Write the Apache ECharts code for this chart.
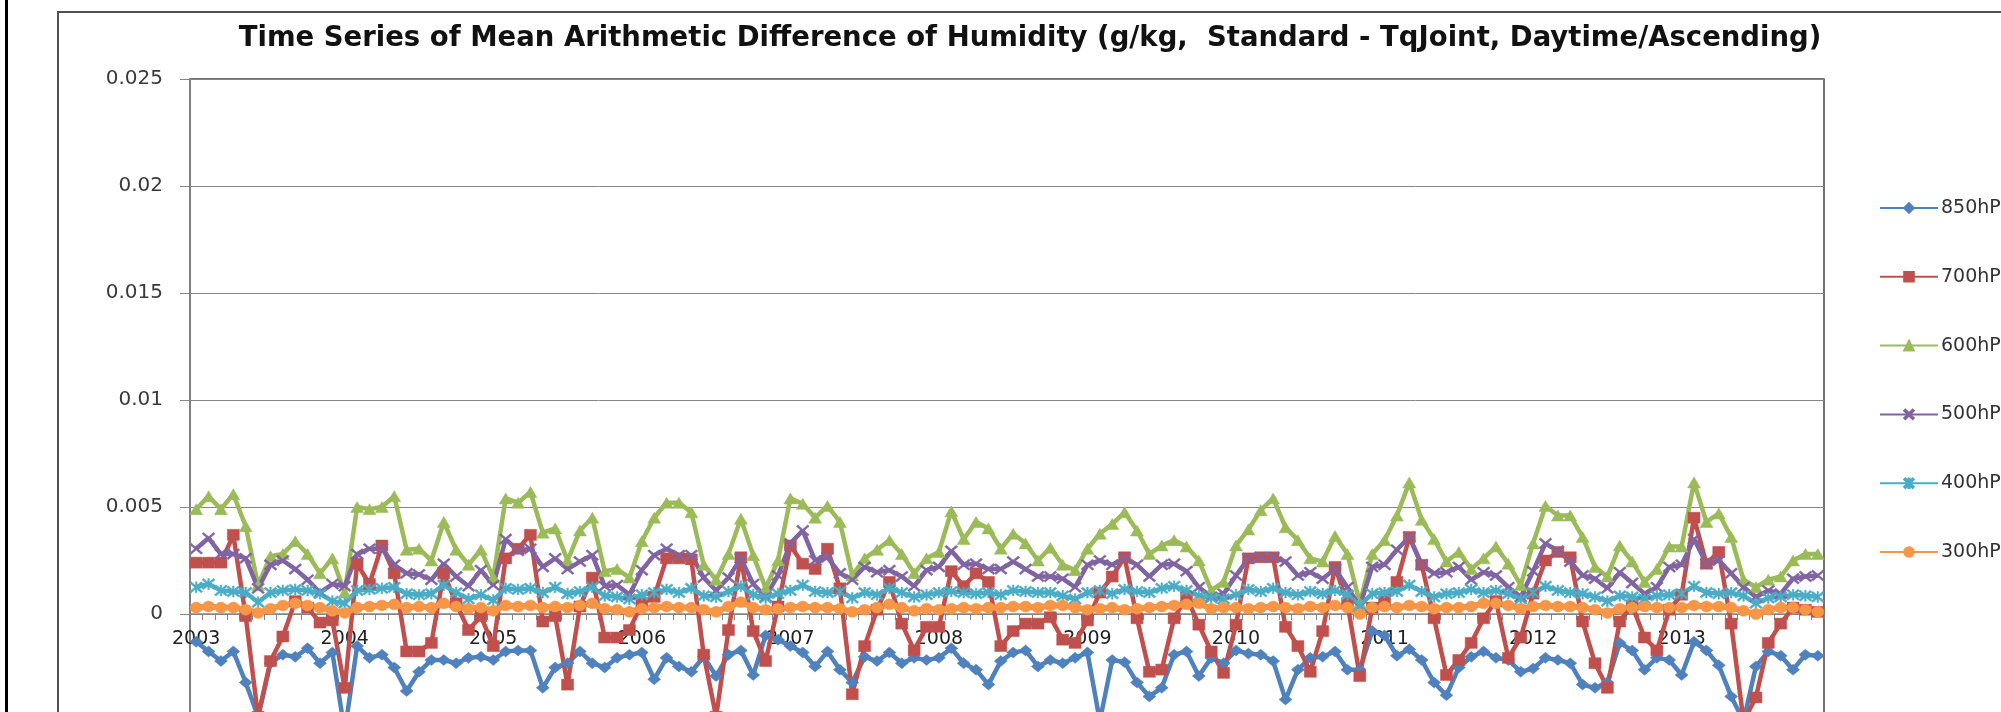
<!DOCTYPE html>
<html>
<head>
<meta charset="utf-8">
<script src="https://cdn.jsdelivr.net/npm/echarts@6/dist/echarts.min.js"></script>
<style>
html,body{margin:0;padding:0;background:#fff;}
#chart{width:2001px;height:712px;}
</style>
</head>
<body>
<div id="chart"></div>
<script>
const titleText = 'Time Series of Mean Arithmetic Difference of Humidity (g/kg,  Standard - TqJoint, Daytime/Ascending)';
const years = [2003,2004,2005,2006,2007,2008,2009,2010,2011,2012,2013];
const monthCodes = ['01','02','03','04','05','06','07','08','09','10','11','12'];
const categories = [];
years.forEach(y => monthCodes.forEach(m => categories.push(y + '-' + m)));

const seriesNames = ['850hPa','700hPa','600hPa','500hPa','400hPa','300hPa'];

const p850 = [-0.0013,-0.00175,-0.0022,-0.00175,-0.0032,-0.0048,-0.0023,-0.0019,-0.0020,-0.0016,
-0.0023,-0.0018,-0.0055,-0.0015,-0.00205,-0.0019,-0.0025,-0.0036,-0.0027,-0.00215,
-0.00215,-0.0023,-0.00205,-0.0020,-0.00215,-0.00175,-0.0017,-0.0017,-0.00345,-0.0025,
-0.0023,-0.00175,-0.0023,-0.0025,-0.00205,-0.0019,
-0.0018,-0.00305,-0.00205,-0.00245,-0.0027,-0.0020,-0.0029,-0.0019,-0.0017,-0.00285,
-0.0010,-0.0012,-0.0015,-0.0018,-0.00245,-0.00175,-0.0026,-0.0032,-0.0020,-0.0022,
-0.0018,-0.0023,-0.00205,-0.00215,-0.00205,-0.0016,-0.0023,-0.0026,-0.0033,-0.0022,
-0.0018,-0.0017,-0.00245,-0.00215,
-0.0023,-0.00205,-0.0018,-0.0050,-0.00215,-0.00225,-0.0032,-0.00385,-0.00345,-0.0019,
-0.00175,-0.0029,-0.00205,-0.0023,-0.0017,-0.00185,-0.0019,-0.0022,-0.0040,-0.0026,
-0.00205,-0.0020,-0.00175,-0.0026,-0.0026,-0.0008,-0.0010,-0.00195,-0.00165,-0.00215,
-0.0032,-0.0038,-0.0025,-0.0020,
-0.00175,-0.00205,-0.00215,-0.0027,-0.00255,-0.00205,-0.00215,-0.0023,-0.0033,-0.00345,
-0.0032,-0.00135,-0.0017,-0.0026,-0.00205,-0.00215,-0.00285,-0.0013,-0.0017,-0.0024,
-0.00385,-0.0050,-0.00245,-0.00175,-0.00195,-0.0026,-0.0019,-0.00195];

const p700 = [0.0024,0.0024,0.0024,0.0037,-0.0001,-0.0048,-0.0022,-0.00105,0.0006,0.0003,
-0.0004,-0.0003,-0.00345,0.00235,0.0014,0.0032,0.0019,-0.00175,-0.00175,-0.00135,
0.0019,0.0005,-0.00075,-0.0001,-0.0015,0.0026,0.00305,0.0037,-0.00035,-0.0001,
-0.0033,0.00035,0.0017,-0.0011,-0.0011,-0.00075,
0.0005,0.0008,0.0026,0.0026,0.00255,-0.0019,-0.0048,-0.00075,0.00265,-0.0008,
-0.0022,0.00035,0.0032,0.00235,0.0021,0.00305,0.0012,-0.00375,-0.0015,0.0002,
0.0015,-0.00045,-0.0017,-0.0006,-0.0006,0.0020,0.0013,0.0019,0.0015,-0.0015,
-0.0008,-0.00045,-0.00045,-0.00015,
-0.0012,-0.00135,-0.0003,0.0010,0.00175,0.00265,-0.0002,-0.0027,-0.0026,-0.0002,
0.0008,-0.0005,-0.00175,-0.00275,-0.0005,0.0026,0.00265,0.00265,-0.0006,-0.0015,
-0.0027,-0.0008,0.0022,0.0005,-0.0029,0.0003,0.0006,0.0015,0.0036,0.0023,
-0.0002,-0.00285,-0.00215,-0.00135,
-0.0002,0.0006,-0.00205,-0.0011,0.00095,0.0025,0.0029,0.00265,-0.00035,-0.0023,
-0.00345,-0.00035,0.0004,-0.0011,-0.0017,0.0002,0.0009,0.0045,0.00235,0.0029,
-0.00045,-0.0050,-0.0039,-0.00135,-0.00045,0.0003,0.0002,0.0001];

const p600 = [0.0049,0.0055,0.0049,0.0056,0.0041,0.00135,0.0027,0.0028,0.0034,0.0028,
0.0019,0.0026,0.0010,0.0050,0.0049,0.0050,0.0055,0.0030,0.00305,0.0025,
0.0043,0.0030,0.0023,0.0030,0.0017,0.0054,0.0052,0.0057,0.0038,0.0040,
0.0025,0.0039,0.0045,0.0020,0.0021,0.0017,
0.0034,0.0045,0.0052,0.0052,0.00475,0.0023,0.0016,0.0028,0.00445,0.00275,
0.0012,0.0025,0.0054,0.00515,0.0045,0.00505,0.0043,0.0018,0.0026,0.0030,
0.00345,0.0028,0.0019,0.0026,0.0029,0.0048,0.0035,0.0043,0.0040,0.00305,
0.00375,0.0033,0.0025,0.0031,
0.0023,0.00205,0.00305,0.00375,0.0042,0.00475,0.0039,0.0028,0.0032,0.00345,
0.00315,0.0025,0.0011,0.0015,0.0032,0.00395,0.00485,0.0054,0.00405,0.00345,
0.0026,0.00245,0.00365,0.0028,0.0005,0.0028,0.00345,0.0046,0.00615,0.0044,
0.0035,0.00245,0.0029,0.0021,
0.0026,0.00315,0.00235,0.00135,0.0033,0.00505,0.0046,0.0046,0.0036,0.0022,
0.00175,0.0032,0.00245,0.0015,0.0021,0.00315,0.00315,0.00615,0.0043,0.0047,
0.0036,0.0016,0.00125,0.0016,0.00175,0.0025,0.0028,0.0028];

const p500 = [0.00305,0.00355,0.0028,0.0028,0.0026,0.0012,0.0023,0.0025,0.0021,0.0016,
0.0010,0.0014,0.0013,0.0028,0.00305,0.00305,0.0023,0.0019,0.00185,0.0016,
0.00235,0.00175,0.0013,0.00205,0.00135,0.0035,0.00295,0.00305,0.0022,0.0026,
0.0021,0.00245,0.00275,0.0013,0.00135,0.0009,
0.00205,0.00275,0.00305,0.00275,0.00275,0.0017,0.0011,0.0017,0.0026,0.0014,
0.0008,0.0018,0.0033,0.0039,0.0025,0.00265,0.0019,0.0016,0.0022,0.00195,
0.00205,0.00175,0.0013,0.00205,0.0022,0.00295,0.0023,0.00235,0.0021,0.0021,
0.00245,0.0021,0.00175,0.00175,
0.00165,0.00125,0.0023,0.0025,0.0023,0.0026,0.0023,0.00175,0.0023,0.00235,
0.0020,0.00125,0.0008,0.00095,0.0018,0.0026,0.00265,0.00265,0.00245,0.0018,
0.00195,0.00165,0.0021,0.00125,0.00035,0.0022,0.0023,0.0030,0.0036,0.0023,
0.0019,0.00195,0.0022,0.0016,
0.00195,0.0018,0.00125,0.0008,0.0020,0.0033,0.00295,0.00245,0.0018,0.00165,
0.0012,0.00195,0.00145,0.00095,0.00125,0.0022,0.0023,0.0035,0.00235,0.0025,
0.0019,0.00125,0.0008,0.0011,0.00095,0.00165,0.00175,0.0018];

const p400 = [0.00125,0.0014,0.0011,0.00105,0.0010,0.00055,0.0010,0.0011,0.00115,0.0011,
0.00095,0.0006,0.0005,0.0011,0.00115,0.0012,0.00125,0.00095,0.0009,0.00095,
0.00135,0.0010,0.0007,0.0009,0.00065,0.0012,0.00115,0.0012,0.0010,0.00125,
0.00095,0.00105,0.00125,0.00085,0.0008,0.0007,
0.0009,0.0010,0.00115,0.0010,0.0012,0.00085,0.0008,0.00105,0.0013,0.0009,
0.00075,0.00095,0.0011,0.00135,0.00105,0.0010,0.00105,0.00075,0.0010,0.0009,
0.0012,0.0010,0.0008,0.0009,0.0010,0.00105,0.0010,0.00095,0.0010,0.0009,
0.0011,0.00105,0.0010,0.0010,
0.00085,0.0007,0.0010,0.0011,0.00095,0.00115,0.00105,0.0010,0.0012,0.0013,
0.0011,0.00085,0.00075,0.0007,0.0009,0.00115,0.00105,0.0012,0.0010,0.0009,
0.00105,0.00095,0.0011,0.0009,0.0004,0.00095,0.0010,0.00105,0.00135,0.00105,
0.0008,0.00095,0.0010,0.00115,
0.0010,0.0011,0.00095,0.0007,0.0010,0.0013,0.0011,0.0010,0.00095,0.0008,
0.0006,0.00085,0.0008,0.0007,0.00085,0.0009,0.00095,0.0013,0.0010,0.00095,
0.0010,0.00085,0.0005,0.00075,0.0008,0.0009,0.00085,0.0008];

const p300 = [0.0003,0.00035,0.0003,0.0003,0.0002,0.00005,0.00025,0.0004,0.0005,0.0004,
0.0003,0.00015,0.00005,0.0003,0.00035,0.0004,0.00045,0.0003,0.00035,0.0003,
0.0005,0.00035,0.00025,0.0003,0.00015,0.0004,0.00035,0.0004,0.0003,0.00035,
0.0003,0.0004,0.0005,0.00025,0.0002,0.0001,
0.00025,0.0003,0.00035,0.0003,0.0003,0.0002,0.0001,0.00035,0.00055,0.0003,
0.0002,0.00025,0.0003,0.00035,0.0003,0.0003,0.00025,0.0001,0.0002,0.0003,
0.00045,0.0003,0.00015,0.00025,0.0002,0.00025,0.0003,0.00025,0.0003,0.0003,
0.00035,0.00035,0.0003,0.0004,
0.0004,0.0003,0.0002,0.00025,0.0003,0.0002,0.00025,0.0003,0.00035,0.0004,
0.00045,0.0005,0.00025,0.0003,0.0003,0.00025,0.0003,0.00035,0.0003,0.00025,
0.00035,0.0003,0.0004,0.0003,0.0000,0.0003,0.00035,0.0003,0.0004,0.00035,
0.00025,0.0003,0.0003,0.00035,
0.0005,0.0005,0.0004,0.00025,0.00035,0.0004,0.00035,0.00035,0.0003,0.0002,
0.00005,0.00025,0.0003,0.00035,0.0003,0.0003,0.0003,0.0004,0.00035,0.00035,
0.0003,0.00015,0.0000,0.0002,0.0003,0.0003,0.0002,0.0001];

const yMin = -0.01, yMax = 0.025, yStep = 0.005;

const colors = ['#4F81BD','#C0504D','#9BBB59','#8064A2','#4BACC6','#F79646'];
const symX = 'path://M0,1.2L1.2,0L5,3.8L8.8,0L10,1.2L6.2,5L10,8.8L8.8,10L5,6.2L1.2,10L0,8.8L3.8,5Z';
const symStar = 'path://M0,1.2L1.2,0L5,3.8L8.8,0L10,1.2L6.2,5L10,8.8L8.8,10L5,6.2L1.2,10L0,8.8L3.8,5Z M4.4,0L5.6,0L5.6,10L4.4,10Z';
const symbols = ['diamond','rect','triangle',symX,symStar,'circle'];
const symbolSizes = [[13,11],[12,11],[13,11],[13,11],[13,11],[12,11]];
const lineWidths = [4.5,4.5,4.5,4.5,4.5,6];
const dataSets = [p850,p700,p600,p500,p400,p300];

// grid geometry: 0 lies 5/7 of the way down a grid spanning yMin..yMax
const gridTop = 79, gridHeight = 749;
const zeroOffset = -gridHeight * (0 - yMin) / (yMax - yMin);

const chart = echarts.init(document.getElementById('chart'), null, {renderer:'canvas'});
const option = {
  animation: false,
  backgroundColor: '#ffffff',
  color: colors,
  title: {
    text: titleText,
    left: 1030,
    top: 25,
    textAlign: 'center',
    padding: 0,
    textStyle: {fontFamily: 'DejaVu Sans', fontWeight: 'bold', fontSize: 27.5, color: '#111'}
  },
  graphic: [
    {type:'rect', silent:true, z:-10, shape:{x:58, y:12, width:2200, height:900}, style:{fill:'none', stroke:'#505050', lineWidth:2}},
    {type:'rect', silent:true, z:-10, shape:{x:5, y:0, width:3, height:712}, style:{fill:'#000'}}
  ],
  legend: {
    orient: 'vertical',
    left: 1879,
    top: 198,
    itemWidth: 58,
    itemHeight: 12,
    itemGap: 48.8,
    padding: 0,
    textStyle: {fontFamily: 'DejaVu Sans', fontSize: 19, color: '#333', lineHeight: 20, padding:[0,0,0,-2]},
    data: seriesNames
  },
  grid: {
    left: 190, top: gridTop, width: 1634, height: gridHeight,
    outerBoundsMode: 'none',
    show: true, borderColor: '#444', borderWidth: 1.5, backgroundColor: 'transparent',
    containLabel: false
  },
  xAxis: {
    type: 'category',
    data: categories,
    boundaryGap: true,
    position: 'bottom',
    offset: zeroOffset,
    axisLine: {onZero: false, lineStyle: {color: '#868686', width: 1.5}},
    axisTick: {show: true, interval: 0, length: 6, lineStyle: {color: '#868686'}},
    axisLabel: {
      interval: 11, margin: 16,
      fontFamily: 'DejaVu Sans', fontSize: 19, color: '#222',
      formatter: v => v.slice(0,4)
    },
    splitLine: {show: false}
  },
  yAxis: {
    type: 'value',
    min: yMin, max: yMax, interval: yStep,
    axisLine: {show: true, onZero: false, lineStyle: {color: '#868686', width: 1.5}},
    axisTick: {show: true, length: 10, lineStyle: {color: '#868686'}},
    axisLabel: {
      margin: 27,
      fontFamily: 'DejaVu Sans', fontSize: 20, color: '#3a3a3a',
      formatter: v => (v < -1e-9 ? '' : String(+v.toFixed(3)))
    },
    splitLine: {show: true, lineStyle: {color: '#868686', width: 1}}
  },
  series: seriesNames.map((name, k) => ({
    name: name,
    type: 'line',
    data: dataSets[k],
    symbol: symbols[k],
    symbolSize: symbolSizes[k],
    showAllSymbol: true,
    lineStyle: {width: lineWidths[k], color: colors[k]},
    itemStyle: {color: colors[k], borderColor: colors[k], borderWidth: 0.5},
    emphasis: {disabled: true}
  }))
};
chart.setOption(option);
</script>
</body>
</html>
